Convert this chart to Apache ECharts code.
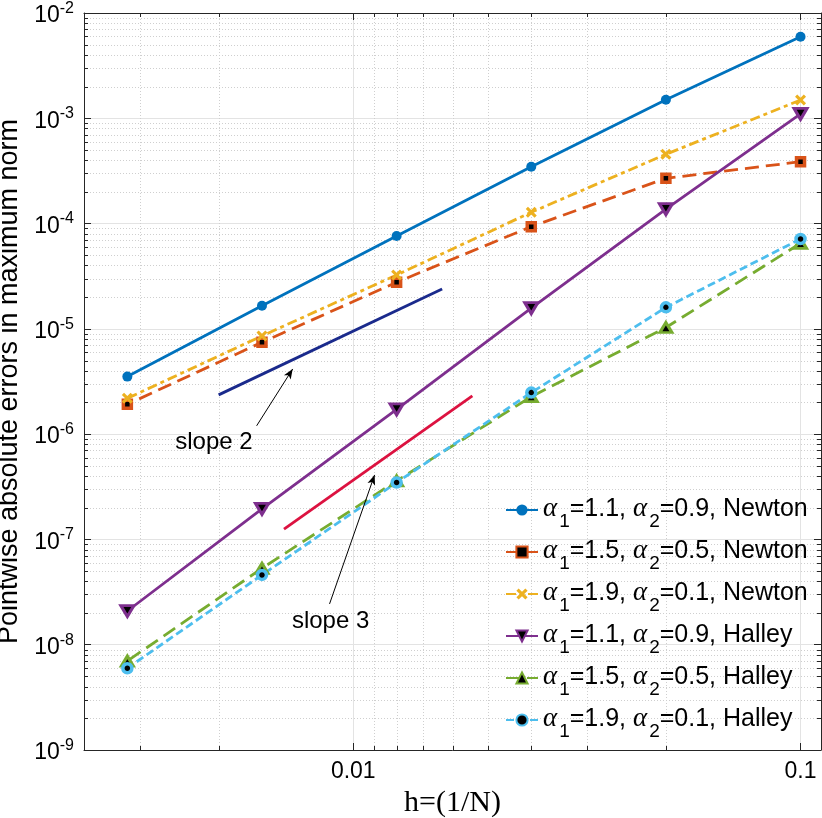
<!DOCTYPE html>
<html><head><meta charset="utf-8">
<script src="https://cdn.jsdelivr.net/npm/echarts@6/dist/echarts.min.js"></script>
<style>html,body{margin:0;padding:0;background:#fff}#c{width:822px;height:818px}</style>
</head><body><div id="c"></div>
<script>
// ---------- data ----------
const hValues = [0.1, 0.05, 0.025, 0.0125, 0.00625, 0.003125];
const errNewton11 = [5.95e-3, 1.50e-3, 3.47e-4, 7.62e-5, 1.66e-5, 3.52e-6];
const errNewton15 = [3.87e-4, 2.69e-4, 9.35e-5, 2.77e-5, 7.46e-6, 1.92e-6];
const errNewton19 = [1.49e-3, 4.55e-4, 1.28e-4, 3.25e-5, 8.57e-6, 2.19e-6];
const errHalley11 = [1.10e-3, 1.37e-4, 1.57e-5, 1.72e-6, 1.95e-7, 2.09e-8];
const errHalley15 = [6.50e-5, 1.03e-5, 2.27e-6, 3.60e-7, 5.32e-8, 7.00e-9];
const errHalley19 = [7.14e-5, 1.60e-5, 2.48e-6, 3.47e-7, 4.60e-8, 5.98e-9];

const alpha1 = ['1.1', '1.5', '1.9', '1.1', '1.5', '1.9'];
const alpha2 = ['0.9', '0.5', '0.1', '0.9', '0.5', '0.1'];
const methods = ['Newton', 'Newton', 'Newton', 'Halley', 'Halley', 'Halley'];

const xMin = 1 / 400, xMax = 1 / 9;
const yMin = 1e-9, yMax = 1e-2;
const xMinorTicks = [1/300, 1/200, 1/90, 1/80, 1/70, 1/60, 1/50, 1/40, 1/30, 1/20];
const yMinorFactors = [2, 3, 4, 5, 6, 7, 8, 9];
const yDecadeExps = [-9, -8, -7, -6, -5, -4, -3];

const slope2X = [0.0050, 0.0158];
const slope2Y = [2.36e-6, 2.39e-5];
const slope3X = [0.0070, 0.01846];
const slope3Y = [1.25e-7, 2.31e-6];

const annotationText = ['slope 2', 'slope 3'];
const annotationX = [0.00488, 0.0089];
const annotationY = [8.43e-7, 1.68e-8];
const arrowFromX = [0.00608, 0.00885];
const arrowFromY = [1.20e-6, 2.44e-8];
const arrowToX = [0.00732, 0.01116];
const arrowToY = [4.16e-6, 4.10e-7];

// ---------- build ----------
const allErr = [errNewton11, errNewton15, errNewton19, errHalley11, errHalley15, errHalley19];
const names = alpha1.map((a, i) => 'α1=' + a + ', α2=' + alpha2[i] + ', ' + methods[i]);

const xPath = 'path://M0,2 L2,0 L5,3 L8,0 L10,2 L7,5 L10,8 L8,10 L5,7 L2,10 L0,8 L3,5 Z';
const looks = [
  {color: '#0072BD', symbol: 'circle', size: 10, dash: 'solid', fill: '#0072BD', bw: 0, rot: 0},
  {color: '#D95319', symbol: 'rect', size: 8, dash: [14, 7], fill: '#000000', bw: 3.5, rot: 0},
  {color: '#EDB120', symbol: xPath, size: 11, dash: [10, 4, 4, 4], fill: '#EDB120', bw: 0, rot: 0},
  {color: '#7E2F8E', symbol: 'triangle', size: [13, 11], dash: 'solid', fill: '#000000', bw: 3, rot: 180},
  {color: '#77AC30', symbol: 'triangle', size: [12, 10], dash: [14, 7], fill: '#000000', bw: 3, rot: 0},
  {color: '#4DBEEE', symbol: 'circle', size: 9, dash: [8, 4], fill: '#000000', bw: 3.5, rot: 0}
];

const yMinorTicks = [];
yDecadeExps.forEach(e => yMinorFactors.forEach(f => yMinorTicks.push(f * Math.pow(10, e))));

const AX = '#262626';
const sans = 'Liberation Sans, Arial, Helvetica, sans-serif';

function minorXItem(params, api) {
  const cs = params.coordSys;
  let px = api.coord([api.value(0), api.value(1)])[0];
  px = Math.round(px) + 0.5;
  const top = cs.y, bot = cs.y + cs.height;
  return {type: 'group', children: [
    {type: 'line', shape: {x1: px, y1: top, x2: px, y2: bot}, style: {stroke: '#cfcfcf', lineWidth: 1, lineDash: [1, 2]}},
    {type: 'line', shape: {x1: px, y1: bot, x2: px, y2: bot - 4}, style: {stroke: AX, lineWidth: 1}},
    {type: 'line', shape: {x1: px, y1: top, x2: px, y2: top + 4}, style: {stroke: AX, lineWidth: 1}}
  ]};
}
function minorYItem(params, api) {
  const cs = params.coordSys;
  let py = api.coord([api.value(0), api.value(1)])[1];
  py = Math.round(py) + 0.5;
  const l = cs.x, r = cs.x + cs.width;
  return {type: 'group', children: [
    {type: 'line', shape: {x1: l, y1: py, x2: r, y2: py}, style: {stroke: '#cfcfcf', lineWidth: 1, lineDash: [1, 2]}},
    {type: 'line', shape: {x1: l, y1: py, x2: l + 4, y2: py}, style: {stroke: AX, lineWidth: 1}},
    {type: 'line', shape: {x1: r, y1: py, x2: r - 4, y2: py}, style: {stroke: AX, lineWidth: 1}}
  ]};
}
function noteItem(params, api) {
  const p = api.coord([api.value(0), api.value(1)]);
  return {type: 'text', x: p[0], y: p[1], silent: true,
    style: {text: annotationText[params.dataIndex], fill: '#000000', font: '24px ' + sans,
      align: 'center', verticalAlign: 'middle'}};
}

const series = [
  {type: 'custom', name: 'minorX', silent: true, z: 1, clip: false, renderItem: minorXItem,
   data: xMinorTicks.map(v => [v, 1e-5]), tooltip: {show: false}},
  {type: 'custom', name: 'minorY', silent: true, z: 1, clip: false, renderItem: minorYItem,
   data: yMinorTicks.map(v => [0.01, v]), tooltip: {show: false}}
];

allErr.forEach((vals, i) => {
  const L = looks[i];
  series.push({
    type: 'line', name: names[i], z: 3,
    data: hValues.map((h, k) => [h, vals[k]]),
    symbol: L.symbol, symbolSize: L.size, symbolRotate: L.rot, showSymbol: true,
    lineStyle: {color: L.color, width: 2.8, type: L.dash},
    itemStyle: {color: L.fill, borderColor: L.color, borderWidth: L.bw},
    emphasis: {disabled: true}, animation: false
  });
});

series.push({type: 'line', name: 'slope2', z: 3, symbol: 'none', silent: true, animation: false,
  data: slope2X.map((x, k) => [x, slope2Y[k]]), lineStyle: {color: '#1A2A8C', width: 2.8}});
series.push({type: 'line', name: 'slope3', z: 3, symbol: 'none', silent: true, animation: false,
  data: slope3X.map((x, k) => [x, slope3Y[k]]), lineStyle: {color: '#DC1240', width: 2.8}});

series.push({
  type: 'custom', name: 'notes', z: 5, silent: true, animation: false, clip: false,
  renderItem: noteItem,
  data: annotationX.map((x, k) => [x, annotationY[k]]),
  markLine: {
    silent: true, animation: false, symbol: ['none', 'arrow'], symbolSize: [6, 10],
    label: {show: false},
    lineStyle: {color: '#000', width: 1, type: 'solid'},
    data: arrowFromX.map((x, k) => [{coord: [x, arrowFromY[k]]}, {coord: [arrowToX[k], arrowToY[k]]}])
  }
});

function xLabel(v) {
  const l = Math.log10(v);
  if (Math.abs(l - Math.round(l)) > 1e-6) return '';
  return String(Number(v.toPrecision(3)));
}
function yLabel(v) {
  const l = Math.log10(v);
  const e = Math.round(l);
  if (Math.abs(l - e) > 1e-6) return '';
  return '{b|10}{s|' + e + '}';
}

const legendRich = {
  a: {fontFamily: 'Liberation Serif, DejaVu Serif, serif', fontStyle: 'italic', fontSize: 27, color: '#000', padding: [6, 1, 8, 0], verticalAlign: 'top'},
  t: {fontFamily: sans, fontSize: 25, color: '#000', padding: [8, 0, 8, 0], verticalAlign: 'top'},
  s: {fontFamily: sans, fontSize: 19, color: '#000', padding: [23, 0, 0, 1], verticalAlign: 'top'}
};

const chart = echarts.init(document.getElementById('c'), null, {renderer: 'canvas'});
chart.setOption({
  animation: false,
  backgroundColor: '#ffffff',
  grid: {left: 84, right: 1, top: 13, bottom: 68, containLabel: false, outerBoundsMode: 'none'},
  xAxis: [
    {type: 'log', logBase: 10, min: xMin, max: xMax,
     name: 'h=(1/N)', nameLocation: 'middle', nameGap: 37,
     nameTextStyle: {fontFamily: 'Liberation Serif, DejaVu Serif, serif', fontSize: 30, color: '#000'},
     axisLine: {show: true, onZero: false, lineStyle: {color: AX, width: 1}},
     axisTick: {show: true, inside: true, length: 7, lineStyle: {color: AX}},
     axisLabel: {show: true, formatter: xLabel, margin: 10, color: '#000', fontFamily: sans, fontSize: 23,
       showMinLabel: false, showMaxLabel: false},
     splitLine: {show: true, lineStyle: {color: '#e3e3e3', width: 1}},
     minorTick: {show: false}, minorSplitLine: {show: false}},
    {type: 'log', logBase: 10, min: xMin, max: xMax, position: 'top',
     axisLine: {show: true, onZero: false, lineStyle: {color: AX, width: 1}},
     axisTick: {show: true, inside: true, length: 7, lineStyle: {color: AX}},
     axisLabel: {show: false}, splitLine: {show: false}}
  ],
  yAxis: [
    {type: 'log', logBase: 10, min: yMin, max: yMax,
     name: 'Pointwise absolute errors in maximum norm', nameLocation: 'middle', nameGap: 56,
     nameTextStyle: {fontFamily: sans, fontSize: 27, color: '#000'},
     axisLine: {show: true, onZero: false, lineStyle: {color: AX, width: 1}},
     axisTick: {show: true, inside: true, length: 7, lineStyle: {color: AX}},
     axisLabel: {show: true, formatter: yLabel, margin: 10, color: '#000',
       rich: {
         b: {fontFamily: sans, fontSize: 23, color: '#000', padding: [6, 0, 0, 0], verticalAlign: 'top'},
         s: {fontFamily: sans, fontSize: 16, color: '#000', padding: [2, 0, 0, 0], verticalAlign: 'top'}
       }},
     splitLine: {show: true, lineStyle: {color: '#e3e3e3', width: 1}}},
    {type: 'log', logBase: 10, min: yMin, max: yMax, position: 'right',
     axisLine: {show: true, onZero: false, lineStyle: {color: AX, width: 1}},
     axisTick: {show: true, inside: true, length: 7, lineStyle: {color: AX}},
     axisLabel: {show: false}, splitLine: {show: false}}
  ],
  legend: {
    show: true, orient: 'vertical', left: 500, top: 490,
    data: names, itemWidth: 32, itemHeight: 14, itemGap: 6,
    backgroundColor: 'transparent', borderWidth: 0, selectedMode: false,
    formatter: function (name) {
      const i = names.indexOf(name);
      return '{a|α}{s|1}{t|=' + alpha1[i] + ', }{a|α}{s|2}{t|=' + alpha2[i] + ', ' + methods[i] + '}';
    },
    textStyle: {rich: legendRich}
  },
  series: series
});
</script></body></html>
